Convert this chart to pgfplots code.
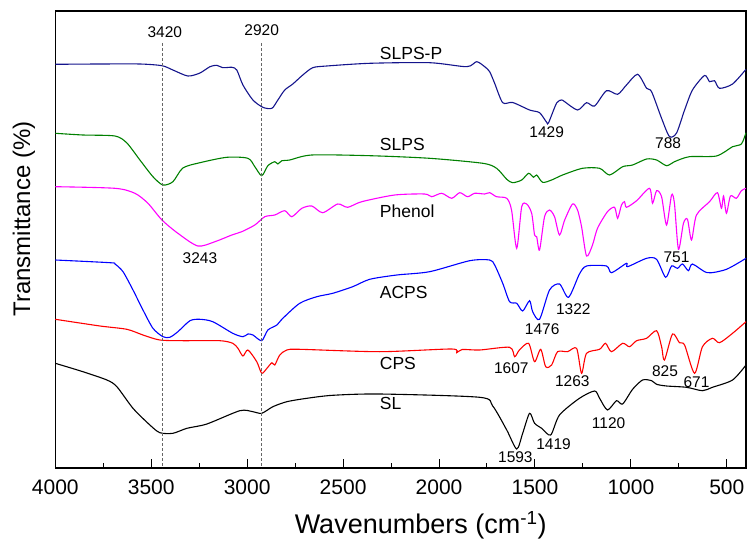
\documentclass[border=0pt]{standalone}
\usepackage{fontspec}
\setmainfont{Liberation Sans}
\usepackage{pgfplots}
\pgfplotsset{compat=1.18}

\definecolor{cSLPSP}{RGB}{20,20,140}
\definecolor{cSLPS}{RGB}{0,128,0}
\definecolor{cPhenol}{RGB}{255,0,255}
\definecolor{cACPS}{RGB}{0,0,255}
\definecolor{cCPS}{RGB}{255,0,0}

% y values are vertical offsets of each stacked spectrum (arbitrary units)
\pgfplotstableread{
wn y
4000 -64.3
3767 -64
3559 -64
3444 -65.7
3387 -70
3309 -76
3246 -73
3194 -66.7
3158 -65.3
3127 -67.7
3080 -67.3
3054 -70
3022 -85
2970 -100
2918 -107.3
2871 -108.3
2840 -100
2804 -90
2762 -84
2710 -75
2658 -67.7
2585 -66
2361 -63.3
2049 -62.7
1856 -66.7
1804 -61.7
1762 -66.7
1736 -71.7
1710 -83.3
1668 -102.7
1616 -102.5
1528 -110
1476 -112.7
1439 -122.3
1429 -122.7
1387 -103
1361 -100
1345 -101.7
1278 -110
1231 -102.7
1189 -106
1127 -90.7
1069 -94.3
1023 -85
965 -74.3
918 -88.3
892 -91.7
840 -118.3
799 -136.5
762 -133
720 -110
679 -90
616 -75.5
590 -81.7
564 -80.7
538 -88.3
470 -84
400 -69.3
}\slpsp

\pgfplotstableread{
wn y
4000 -133.3
3856 -135
3689 -136
3627 -143
3559 -160
3491 -176.7
3439 -185
3387 -181.7
3335 -168
3246 -162.7
3106 -157.3
2996 -158.3
2960 -166.7
2924 -175.7
2892 -165.7
2856 -161.7
2840 -164
2819 -160.7
2778 -160
2663 -155
2361 -155.7
2049 -158.3
1772 -163.3
1700 -168.3
1647 -179.3
1616 -182.7
1569 -180
1533 -173.3
1507 -177.3
1491 -175
1460 -182.3
1413 -180
1356 -175
1252 -168.3
1163 -168.3
1111 -175
1043 -166.7
991 -165
918 -159
866 -160
814 -165.7
773 -161.7
695 -156.7
554 -156
470 -146.7
424 -144
400 -132.7
}\slps

\pgfplotstableread{
wn y
4000 -186.7
3689 -188.3
3585 -193.3
3517 -203.3
3444 -220
3361 -233.3
3257 -246
3168 -241.7
3080 -235
3028 -231.7
2960 -225
2908 -216.7
2856 -215
2804 -210.7
2767 -216.7
2715 -208.3
2663 -206
2606 -212.7
2528 -204
2476 -207.3
2403 -201.7
2231 -195
2075 -194
2038 -196.7
1986 -193.3
1934 -198.3
1892 -192.7
1851 -196.7
1814 -193.3
1762 -194
1736 -192.7
1700 -196.7
1647 -198.3
1622 -210
1595 -248.3
1569 -206.7
1543 -204
1517 -213.3
1502 -235
1491 -236.7
1476 -250
1450 -216.7
1424 -210
1398 -216.7
1372 -235
1345 -220
1304 -204
1278 -210
1257 -226.7
1231 -256
1200 -245
1174 -228.3
1122 -211.7
1085 -207.3
1069 -218.3
1049 -205
1033 -201.7
1023 -207.3
970 -200.7
903 -188.3
887 -203.3
866 -190.7
840 -196.7
814 -225
788 -195
773 -203.3
752 -249.3
726 -223.3
705 -219.3
684 -240
658 -215
590 -201.7
549 -192.7
528 -208.3
517 -196
502 -213.3
481 -196
450 -198.3
424 -190.7
400 -188.3
}\phenol

\pgfplotstableread{
wn y
4000 -260
3715 -262.7
3689 -264
3647 -271.7
3595 -290
3543 -310
3491 -328.3
3439 -336.7
3403 -337.3
3361 -331.7
3298 -320.7
3246 -319.3
3179 -321.7
3075 -333.3
3022 -336.7
2996 -334
2970 -335
2924 -340.7
2892 -330
2845 -325
2814 -318.3
2726 -303.3
2637 -296.7
2554 -293.3
2450 -286.7
2361 -279.3
2220 -275
2049 -271.7
1840 -260.7
1736 -260
1710 -265
1668 -283.3
1632 -301.7
1595 -303.3
1564 -311
1528 -300.7
1512 -311.7
1476 -319.3
1424 -290
1372 -284
1325 -297.3
1268 -274
1231 -266
1127 -266
1101 -272.7
1023 -263.3
1017 -266.7
918 -258.3
866 -259.3
819 -277.3
788 -266
757 -268.3
731 -264
700 -270.7
679 -264
601 -272.7
502 -269.3
400 -258.3
}\acps

\pgfplotstableread{
wn y
4000 -319.3
3767 -326
3627 -329.3
3543 -335
3455 -340
3335 -340.7
3142 -340.7
3075 -343.3
3048 -348.3
3022 -356
2996 -350
2950 -361.7
2924 -373.3
2897 -368.3
2871 -362.7
2856 -365
2830 -355
2793 -350
2726 -349.3
2309 -351.7
1935 -349
1908 -352.7
1880 -349.5
1788 -350
1632 -347.3
1606 -356.7
1581 -350
1533 -343.3
1502 -361.7
1470 -349.3
1444 -366.7
1413 -365
1382 -351.7
1330 -351.7
1283 -348.3
1257 -373.3
1231 -353.3
1163 -349.3
1132 -343.3
1101 -351.7
1043 -343.3
1007 -346.7
970 -340.7
918 -338.3
866 -330.7
840 -346.7
825 -360
783 -334
747 -342.7
720 -345
668 -373.3
627 -346.7
575 -338.3
538 -342.7
470 -333.3
400 -321.7
}\cps

\pgfplotstableread{
wn y
4000 -363.3
3856 -371.7
3731 -380
3679 -386.7
3595 -408.3
3507 -425
3455 -432.7
3387 -433.3
3314 -428.3
3210 -424
3038 -410.7
2970 -411.7
2924 -413.3
2866 -406.7
2793 -401.7
2689 -398.3
2554 -395.3
2309 -394
1788 -397.3
1720 -406
1647 -430
1595 -449
1564 -433.3
1528 -413.3
1502 -423.3
1465 -428.3
1418 -435
1372 -415
1268 -398.3
1189 -391
1163 -398.3
1122 -410
1075 -400.7
1043 -404
991 -389.3
939 -380
892 -380.7
866 -384.3
814 -386
710 -387.3
627 -390.7
575 -387.3
470 -380
400 -365
}\sl

\begin{document}
\begin{tikzpicture}
\begin{axis}[
  scale only axis,
  width=690.7pt, height=457pt,
  xmin=400, xmax=4000, x dir=reverse,
  ymin=-468, ymax=-11,
  xtick={500,1000,...,4000},
  minor x tick num=1,
  xtick pos=bottom,
  ytick=\empty,
  tick align=inside,
  major tick length=9pt,
  minor tick length=5pt,
  every tick/.style={black, line width=1pt},
  axis line style={line width=1.4pt},
  /pgf/number format/assume math mode=true,
  /pgf/number format/set thousands separator={},
  x tick label style={font=\fontsize{21}{25}\selectfont, yshift=-8pt},
  xlabel={Wavenumbers (cm\textsuperscript{-1})},
  xlabel style={font=\fontsize{27}{32}\selectfont, at={(axis description cs:0.529,-0.125)}, anchor=center},
  ylabel={Transmittance (\%)},
  ylabel style={font=\fontsize{24}{29}\selectfont, at={(axis description cs:-0.0453,0.545)}, anchor=center, rotate=0},
  every axis plot/.append style={line width=1.1pt, smooth, tension=0.45},
  clip=false,
]
\addplot[cSLPSP] table {\slpsp};
\addplot[cSLPS] table {\slps};
\addplot[cPhenol] table {\phenol};
\addplot[cACPS] table {\acps};
\addplot[cCPS] table {\cps};
\addplot[black] table {\sl};

\draw[densely dashed, gray!80!black, line width=0.7pt] (axis cs:3443,-43) -- (axis cs:3443,-468);
\draw[densely dashed, gray!80!black, line width=0.7pt] (axis cs:2924,-43) -- (axis cs:2924,-468);

\begin{scope}[every node/.style={inner sep=0pt, font=\fontsize{17.5}{20}\selectfont, anchor=west}]
\node at (axis cs:2309,-53) {SLPS-P};
\node at (axis cs:2309,-144) {SLPS};
\node at (axis cs:2309,-211) {Phenol};
\node at (axis cs:2309,-292.5) {ACPS};
\node at (axis cs:2309,-363) {CPS};
\node at (axis cs:2309,-403.5) {SL};
\end{scope}

\begin{scope}[every node/.style={inner sep=0pt, font=\fontsize{15.5}{18}\selectfont}]
\node at (axis cs:3429,-31.7) {3420};
\node at (axis cs:2924,-29.7) {2920};
\node at (axis cs:1439,-132.6) {1429};
\node at (axis cs:806,-143.3) {788};
\node at (axis cs:3246,-258.5) {3243};
\node at (axis cs:762,-257) {751};
\node at (axis cs:1462,-329) {1476};
\node at (axis cs:1300,-309) {1322};
\node at (axis cs:1623,-368.5) {1607};
\node at (axis cs:1305,-381) {1263};
\node at (axis cs:822,-371) {825};
\node at (axis cs:658,-382) {671};
\node at (axis cs:1602,-457) {1593};
\node at (axis cs:1403,-443.7) {1419};
\node at (axis cs:1116,-422.7) {1120};
\end{scope}

\coordinate (bl) at (axis description cs:0,0);
\coordinate (tr) at (axis description cs:1,1);
\end{axis}
\pgfresetboundingbox
\path[use as bounding box] ([shift={(-55.3pt,-76pt)}]bl) rectangle ([shift={(1pt,11pt)}]tr);
\end{tikzpicture}
\end{document}
